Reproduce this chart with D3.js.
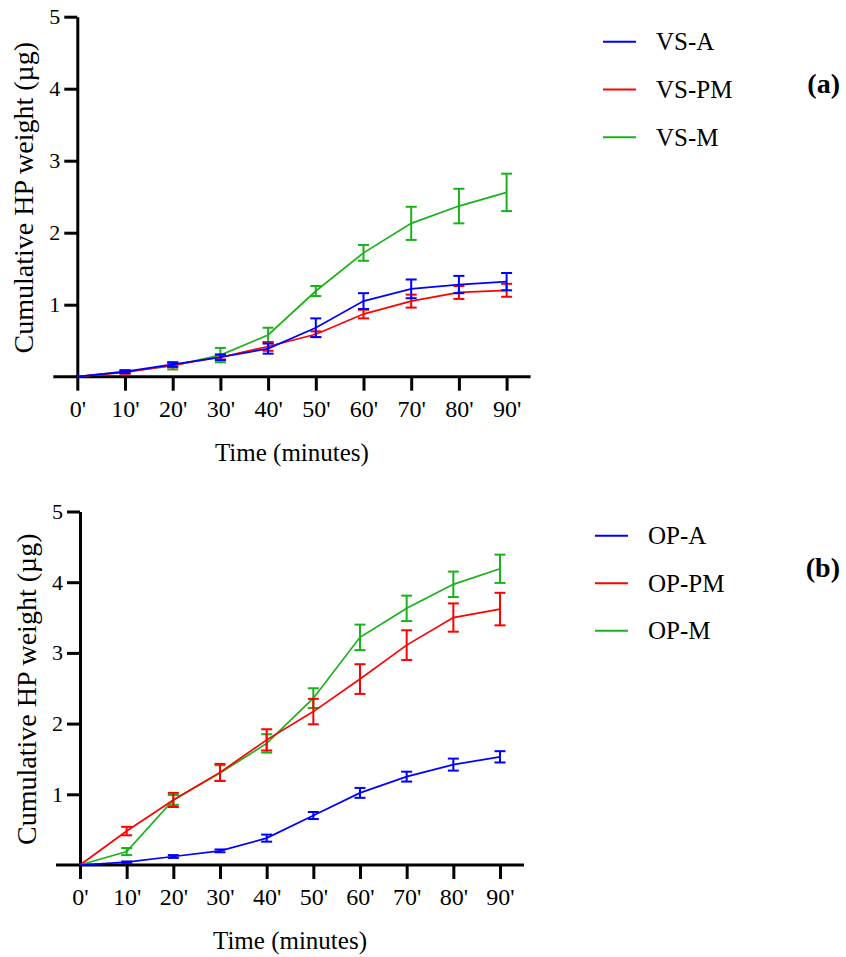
<!DOCTYPE html>
<html>
<head>
<meta charset="utf-8">
<script src="https://cdn.jsdelivr.net/npm/d3@7"></script>
<style>
  body { margin: 0; background: #fff; }
  text { font-family: "Liberation Serif", "Times New Roman", serif; fill: #000; }
</style>
</head>
<body>
<div id="chart"></div>
<script>
// time points and tick labels
const times = [0, 10, 20, 30, 40, 50, 60, 70, 80, 90];
const timeLabels = ["0'", "10'", "20'", "30'", "40'", "50'", "60'", "70'", "80'", "90'"];
const yTicks = [1, 2, 3, 4, 5];

// panel (a)
const vsA    = [0, 0.07, 0.17, 0.27, 0.39, 0.68, 1.05, 1.22, 1.28, 1.32];
const vsAErr = [0, 0.02, 0.03, 0.04, 0.07, 0.13, 0.11, 0.13, 0.12, 0.12];
const vsPM    = [0, 0.06, 0.16, 0.27, 0.42, 0.59, 0.87, 1.05, 1.17, 1.20];
const vsPMErr = [0, 0.02, 0.03, 0.03, 0.06, 0.04, 0.06, 0.09, 0.09, 0.09];
const vsM    = [0, 0.07, 0.15, 0.30, 0.58, 1.19, 1.72, 2.13, 2.37, 2.56];
const vsMErr = [0, 0.02, 0.05, 0.10, 0.10, 0.07, 0.11, 0.23, 0.24, 0.26];

// panel (b)
const opA    = [0, 0.04, 0.12, 0.20, 0.38, 0.70, 1.02, 1.25, 1.42, 1.53];
const opAErr = [0, 0.01, 0.02, 0.02, 0.05, 0.05, 0.07, 0.07, 0.085, 0.08];
const opPM    = [0, 0.48, 0.92, 1.31, 1.77, 2.17, 2.63, 3.11, 3.50, 3.62];
const opPMErr = [0, 0.06, 0.10, 0.12, 0.15, 0.18, 0.21, 0.21, 0.20, 0.23];
const opM    = [0, 0.19, 0.92, 1.30, 1.72, 2.36, 3.22, 3.63, 3.97, 4.19];
const opMErr = [0, 0.05, 0.07, 0.11, 0.13, 0.14, 0.18, 0.18, 0.18, 0.20];

const BLUE = "#0000ff", RED = "#ff0000", GREEN = "#19b219";
const SERIF = "'Liberation Serif', 'Times New Roman', serif";

const svg = d3.select("#chart")
  .append("svg")
  .attr("width", 846)
  .attr("height", 957);

function drawPanel(p) {
  const x = d3.scaleLinear().domain([0, 90]).range([p.left, p.right]);
  const y = d3.scaleLinear().domain([0, 5]).range([p.bottom, p.top]);
  const g = svg.append("g");

  // x axis (line runs past the y axis and the last tick)
  const xa = g.append("g")
    .attr("transform", `translate(0,${p.bottom})`)
    .call(d3.axisBottom(x).tickValues(times).tickFormat((d, i) => timeLabels[i])
      .tickSize(14).tickPadding(9))
    .attr("font-family", SERIF);
  xa.select(".domain").remove();
  xa.selectAll(".tick line").attr("stroke", "#000").attr("stroke-width", 3);
  xa.selectAll(".tick text").style("font-size", "24px").style("font-family", SERIF);
  g.append("line")
    .attr("x1", x(0) - 24).attr("x2", x(90) + 24)
    .attr("y1", p.bottom).attr("y2", p.bottom)
    .attr("stroke", "#000").attr("stroke-width", 3);

  // y axis
  const ya = g.append("g")
    .attr("transform", `translate(${p.left},0)`)
    .call(d3.axisLeft(y).tickValues(yTicks).tickFormat(d3.format("d"))
      .tickSize(13).tickSizeOuter(0).tickPadding(4))
    .attr("font-family", SERIF);
  ya.select(".domain").attr("stroke", "#000").attr("stroke-width", 3);
  ya.selectAll(".tick line").attr("stroke", "#000").attr("stroke-width", 3);
  ya.selectAll(".tick text").style("font-size", "22px").style("font-family", SERIF);

  // titles
  g.append("text")
    .attr("x", (x(0) + x(90)) / 2)
    .attr("y", p.bottom + 84)
    .attr("text-anchor", "middle")
    .style("font-size", "25px")
    .text("Time (minutes)");

  g.append("text")
    .attr("transform", `translate(${p.left - 44},${(p.top + p.bottom) / 2 + 1}) rotate(-90)`)
    .attr("text-anchor", "middle")
    .style("font-size", "28px")
    .text("Cumulative HP weight (µg)");

  // series
  const line = d3.line().x((d, i) => x(times[i])).y(d => y(d));
  p.series.forEach(s => {
    g.append("path")
      .datum(s.values)
      .attr("fill", "none")
      .attr("stroke", s.color)
      .attr("stroke-width", 1.7)
      .attr("d", line);

    const eb = g.append("g").attr("stroke", s.color).attr("stroke-width", 2);
    s.values.forEach((v, i) => {
      const e = s.err[i];
      if (!e) return;
      const cx = x(times[i]);
      eb.append("line").attr("x1", cx).attr("x2", cx)
        .attr("y1", y(v - e)).attr("y2", y(v + e));
      [v - e, v + e].forEach(w => {
        eb.append("line").attr("x1", cx - 5.5).attr("x2", cx + 5.5)
          .attr("y1", y(w)).attr("y2", y(w));
      });
    });
  });

  // legend
  const leg = g.append("g");
  p.legend.forEach((s, i) => {
    const ly = p.legendTop + i * p.legendGap;
    leg.append("line")
      .attr("x1", p.legendX).attr("x2", p.legendX + 33)
      .attr("y1", ly).attr("y2", ly)
      .attr("stroke", s.color).attr("stroke-width", 2);
    leg.append("text")
      .attr("x", p.legendX + 53)
      .attr("y", ly)
      .attr("dy", "0.34em")
      .style("font-size", "25px")
      .text(s.name);
  });

  g.append("text")
    .attr("x", 840)
    .attr("y", p.tagY)
    .attr("dy", "0.34em")
    .attr("text-anchor", "end")
    .style("font-size", "28px")
    .style("font-weight", "bold")
    .text(p.tag);
}

drawPanel({
  left: 77.3, right: 506.6, top: 16.7, bottom: 376.7,
  series: [
    { name: "VS-M", values: vsM, err: vsMErr, color: GREEN },
    { name: "VS-PM", values: vsPM, err: vsPMErr, color: RED },
    { name: "VS-A", values: vsA, err: vsAErr, color: BLUE }
  ],
  legend: [
    { name: "VS-A", color: BLUE },
    { name: "VS-PM", color: RED },
    { name: "VS-M", color: GREEN }
  ],
  legendX: 603, legendTop: 41.7, legendGap: 47.8,
  tag: "(a)", tagY: 83
});

drawPanel({
  left: 80, right: 500, top: 511.5, bottom: 865,
  series: [
    { name: "OP-M", values: opM, err: opMErr, color: GREEN },
    { name: "OP-PM", values: opPM, err: opPMErr, color: RED },
    { name: "OP-A", values: opA, err: opAErr, color: BLUE }
  ],
  legend: [
    { name: "OP-A", color: BLUE },
    { name: "OP-PM", color: RED },
    { name: "OP-M", color: GREEN }
  ],
  legendX: 595, legendTop: 535.7, legendGap: 47.5,
  tag: "(b)", tagY: 567
});
</script>
</body>
</html>
